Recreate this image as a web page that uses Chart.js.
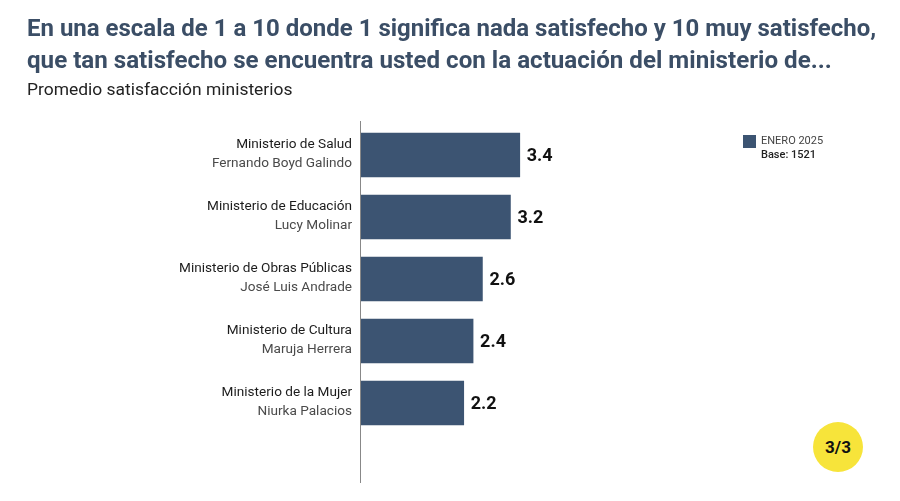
<!DOCTYPE html>
<html>
<head>
<meta charset="utf-8">
<script src="https://cdn.jsdelivr.net/npm/chart.js@4"></script>
<style>
  body { margin: 0; background: #fff; }
  #wrap { position: relative; width: 900px; height: 501px; overflow: hidden; font-family: Roboto, "Noto Sans", sans-serif; }
  #chart { position: absolute; left: 0; top: 0; }
  .title { position: absolute; left: 27px; margin: 0; font-weight: 700; font-size: 23px; color: #3b4e66; white-space: nowrap; transform-origin: left center; line-height: 1; }
  #t1 { top: 17px; }
  #t2 { top: 49px; }
  #sub { position: absolute; left: 27px; top: 80px; font-size: 16px; color: #222; white-space: nowrap; transform-origin: left center; }
  #legend { position: absolute; left: 743px; top: 134px; font-size: 11px; line-height: 14px; }
  #legend .sw { position: absolute; left: 0; top: 1px; width: 13px; height: 13px; background: #3c5472; }
  #legend .txt { position: absolute; left: 18px; top: 0; white-space: nowrap; }
  #legend .a { color: #444; }
  #legend .b { color: #222; font-weight: 500; }
  #badge { position: absolute; left: 813px; top: 422px; width: 50px; height: 50px; border-radius: 50%; background: #f7e43a;
           display: flex; align-items: center; justify-content: center; font-weight: 700; font-size: 17px; color: #111; }
</style>
</head>
<body>
<div id="wrap">
  <canvas id="chart" width="900" height="501"></canvas>
  <div class="title" id="t1">En una escala de 1 a 10 donde 1 significa nada satisfecho y 10 muy satisfecho,</div>
  <div class="title" id="t2">que tan satisfecho se encuentra usted con la actuación del ministerio de...</div>
  <div id="sub">Promedio satisfacción ministerios</div>
  <div id="legend">
    <div class="sw"></div>
    <div class="txt"><div class="a">ENERO 2025</div><div class="b">Base: 1521</div></div>
  </div>
  <div id="badge">3/3</div>
</div>
<script>
const ministerios = ['Ministerio de Salud', 'Ministerio de Educación', 'Ministerio de Obras Públicas', 'Ministerio de Cultura', 'Ministerio de la Mujer'];
const ministros = ['Fernando Boyd Galindo', 'Lucy Molinar', 'José Luis Andrade', 'Maruja Herrera', 'Niurka Palacios'];
const promedio = [3.4, 3.2, 2.6, 2.4, 2.2];
const serie = 'ENERO 2025';

// squeeze the headline into the condensed width of the original
function fit(id, w) {
    const el = document.getElementById(id);
    el.style.transform = 'scaleX(' + (w / el.scrollWidth) + ')';
}
fit('t1', 849);
fit('t2', 805);
fit('sub', 266);

const barColor = '#3c5472';

const labelsPlugin = {
    id: 'labelsPlugin',
    afterDatasetsDraw(chart) {
        const ctx = chart.ctx;
        const y = chart.scales.y;
        const area = chart.chartArea;
        ctx.save();
        // axis line
        ctx.strokeStyle = '#888';
        ctx.lineWidth = 1;
        ctx.beginPath();
        ctx.moveTo(area.left - 0.5, area.top - 3);
        ctx.lineTo(area.left - 0.5, area.bottom + 49);
        ctx.stroke();
        // category labels, two lines
        ctx.textAlign = 'right';
        ctx.textBaseline = 'middle';
        ministerios.forEach((m, i) => {
            const py = y.getPixelForTick(i);
            ctx.font = '13.6px Roboto, sans-serif';
            ctx.fillStyle = '#1c1c1c';
            ctx.fillText(m, area.left - 9, py - 10);
            ctx.fillStyle = '#4a4a4a';
            ctx.fillText(ministros[i], area.left - 9, py + 9);
        });
        // value labels
        const meta = chart.getDatasetMeta(0);
        ctx.textAlign = 'left';
        ctx.font = 'bold 18px Roboto, sans-serif';
        ctx.fillStyle = '#111';
        meta.data.forEach((bar, i) => {
            ctx.fillText(promedio[i].toFixed(1), bar.x + 7, bar.y + 1);
        });
        ctx.restore();
    }
};

new Chart(document.getElementById('chart'), {
    type: 'bar',
    data: {
        labels: ministerios,
        datasets: [{
            label: serie,
            data: promedio,
            backgroundColor: barColor,
            barThickness: 44
        }]
    },
    options: {
        indexAxis: 'y',
        responsive: false,
        animation: false,
        layout: { padding: { left: 361, top: 124, right: 72, bottom: 67 } },
        plugins: {
            legend: { display: false },
            tooltip: { enabled: false }
        },
        scales: {
            x: { display: false, min: 0, max: 10 },
            y: { display: false }
        }
    },
    plugins: [labelsPlugin]
});
</script>
</body>
</html>
